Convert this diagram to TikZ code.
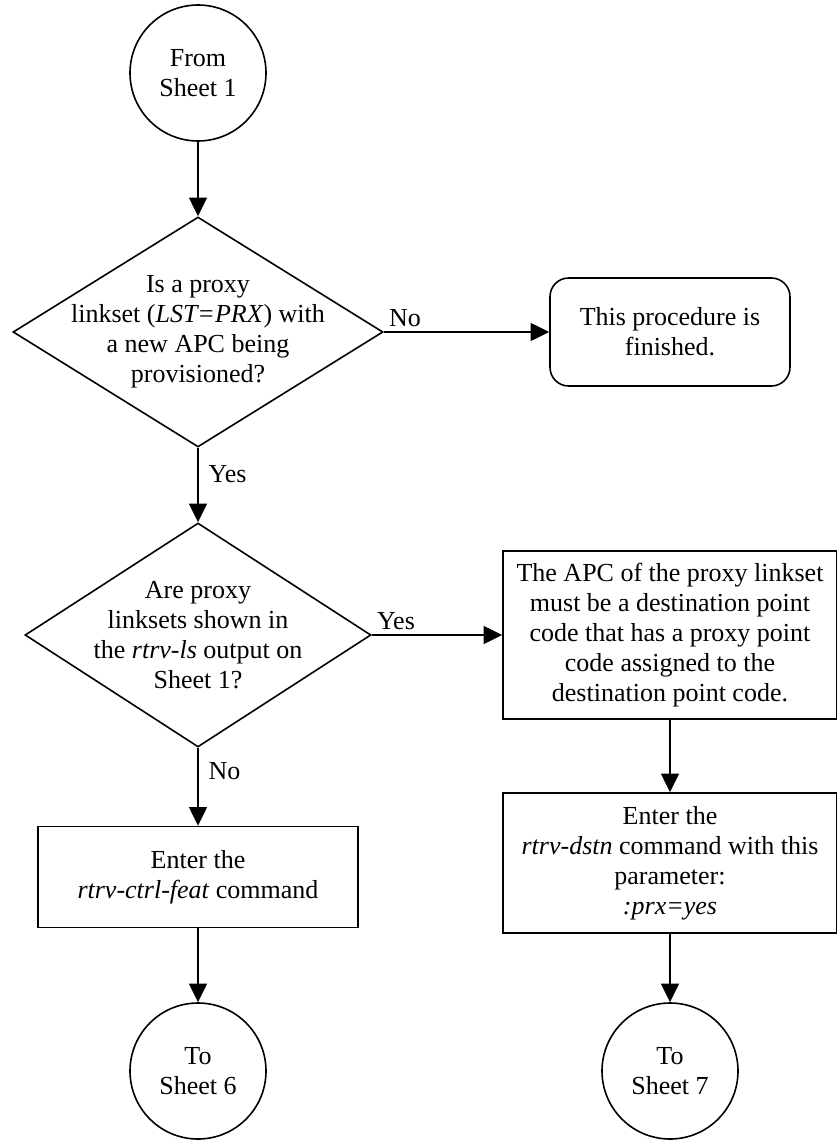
\documentclass[tikz,border=0pt]{standalone}
\usepackage{fontspec}
\setmainfont{Liberation Serif}
\usetikzlibrary{arrows.meta, shapes.geometric}

\begin{document}
\begin{tikzpicture}[
    x=0.75pt, y=-0.75pt, >={Triangle[length=14pt, width=13.5pt]},
    font=\fontsize{19.5}{22.5}\selectfont, line width=1.2pt,
    conn/.style    ={circle, draw, minimum size=102pt, align=center, inner sep=0pt},
    decision/.style={diamond, draw, inner sep=0pt},
    qtext/.style   ={align=center, inner sep=0pt},
    terminal/.style={rectangle, rounded corners=14pt, draw, align=center, minimum width=180pt, minimum height=81pt},
    stepbox/.style ={rectangle, draw, align=center, minimum width=250.5pt},
]
\useasboundingbox (0,0) rectangle (837,1141);
% off-page connectors
\node[conn] (from) at (198,73)   {From\\ Sheet 1};
\node[conn] (to6)  at (198,1071) {To\\ Sheet 6};
\node[conn] (to7)  at (670,1071) {To\\ Sheet 7};
% decisions
\node[decision, minimum width=277.5pt, minimum height=172.5pt] (q1) at (198,332) {};
\node[qtext] at (q1) {Is a proxy\\ linkset (\textit{LST=PRX}) with\\ a new APC being\\ provisioned?};
\node[decision, minimum width=259.5pt, minimum height=168pt] (q2) at (198,635) {};
\node[qtext] at (q2) {Are proxy\\ linksets shown in\\ the \textit{rtrv-ls} output on\\ Sheet 1?};
% steps
\node[terminal] (done) at (670,332) {This procedure is\\ finished.};
\node[stepbox, minimum height=126pt] (apc) at (670,635) {The APC of the proxy linkset\\ must be a destination point\\ code that has a proxy point\\ code assigned to the\\ destination point code.};
\node[stepbox, minimum width=240pt, minimum height=75.75pt] (feat) at (198,877) {Enter the\\ \textit{rtrv-ctrl-feat} command};
\node[stepbox, minimum height=105pt] (dstn) at (670,863) {Enter the\\ \textit{rtrv-dstn} command with this\\ parameter:\\ \textit{:prx=yes}};
% connectors
\draw[->] (from) -- (q1);
\draw[->] (q1) -- node[above right, pos=0]{No} (done);
\draw[->] (q1) -- node[right, pos=0.35, xshift=4pt]{Yes} (q2);
\draw[->] (q2) -- node[above right, pos=0]{Yes} (apc);
\draw[->] (q2) -- node[right, pos=0.3, xshift=4pt]{No} (feat);
\draw[->] (apc) -- (dstn);
\draw[->] (feat) -- (to6);
\draw[->] (dstn) -- (to7);
\end{tikzpicture}
\end{document}
